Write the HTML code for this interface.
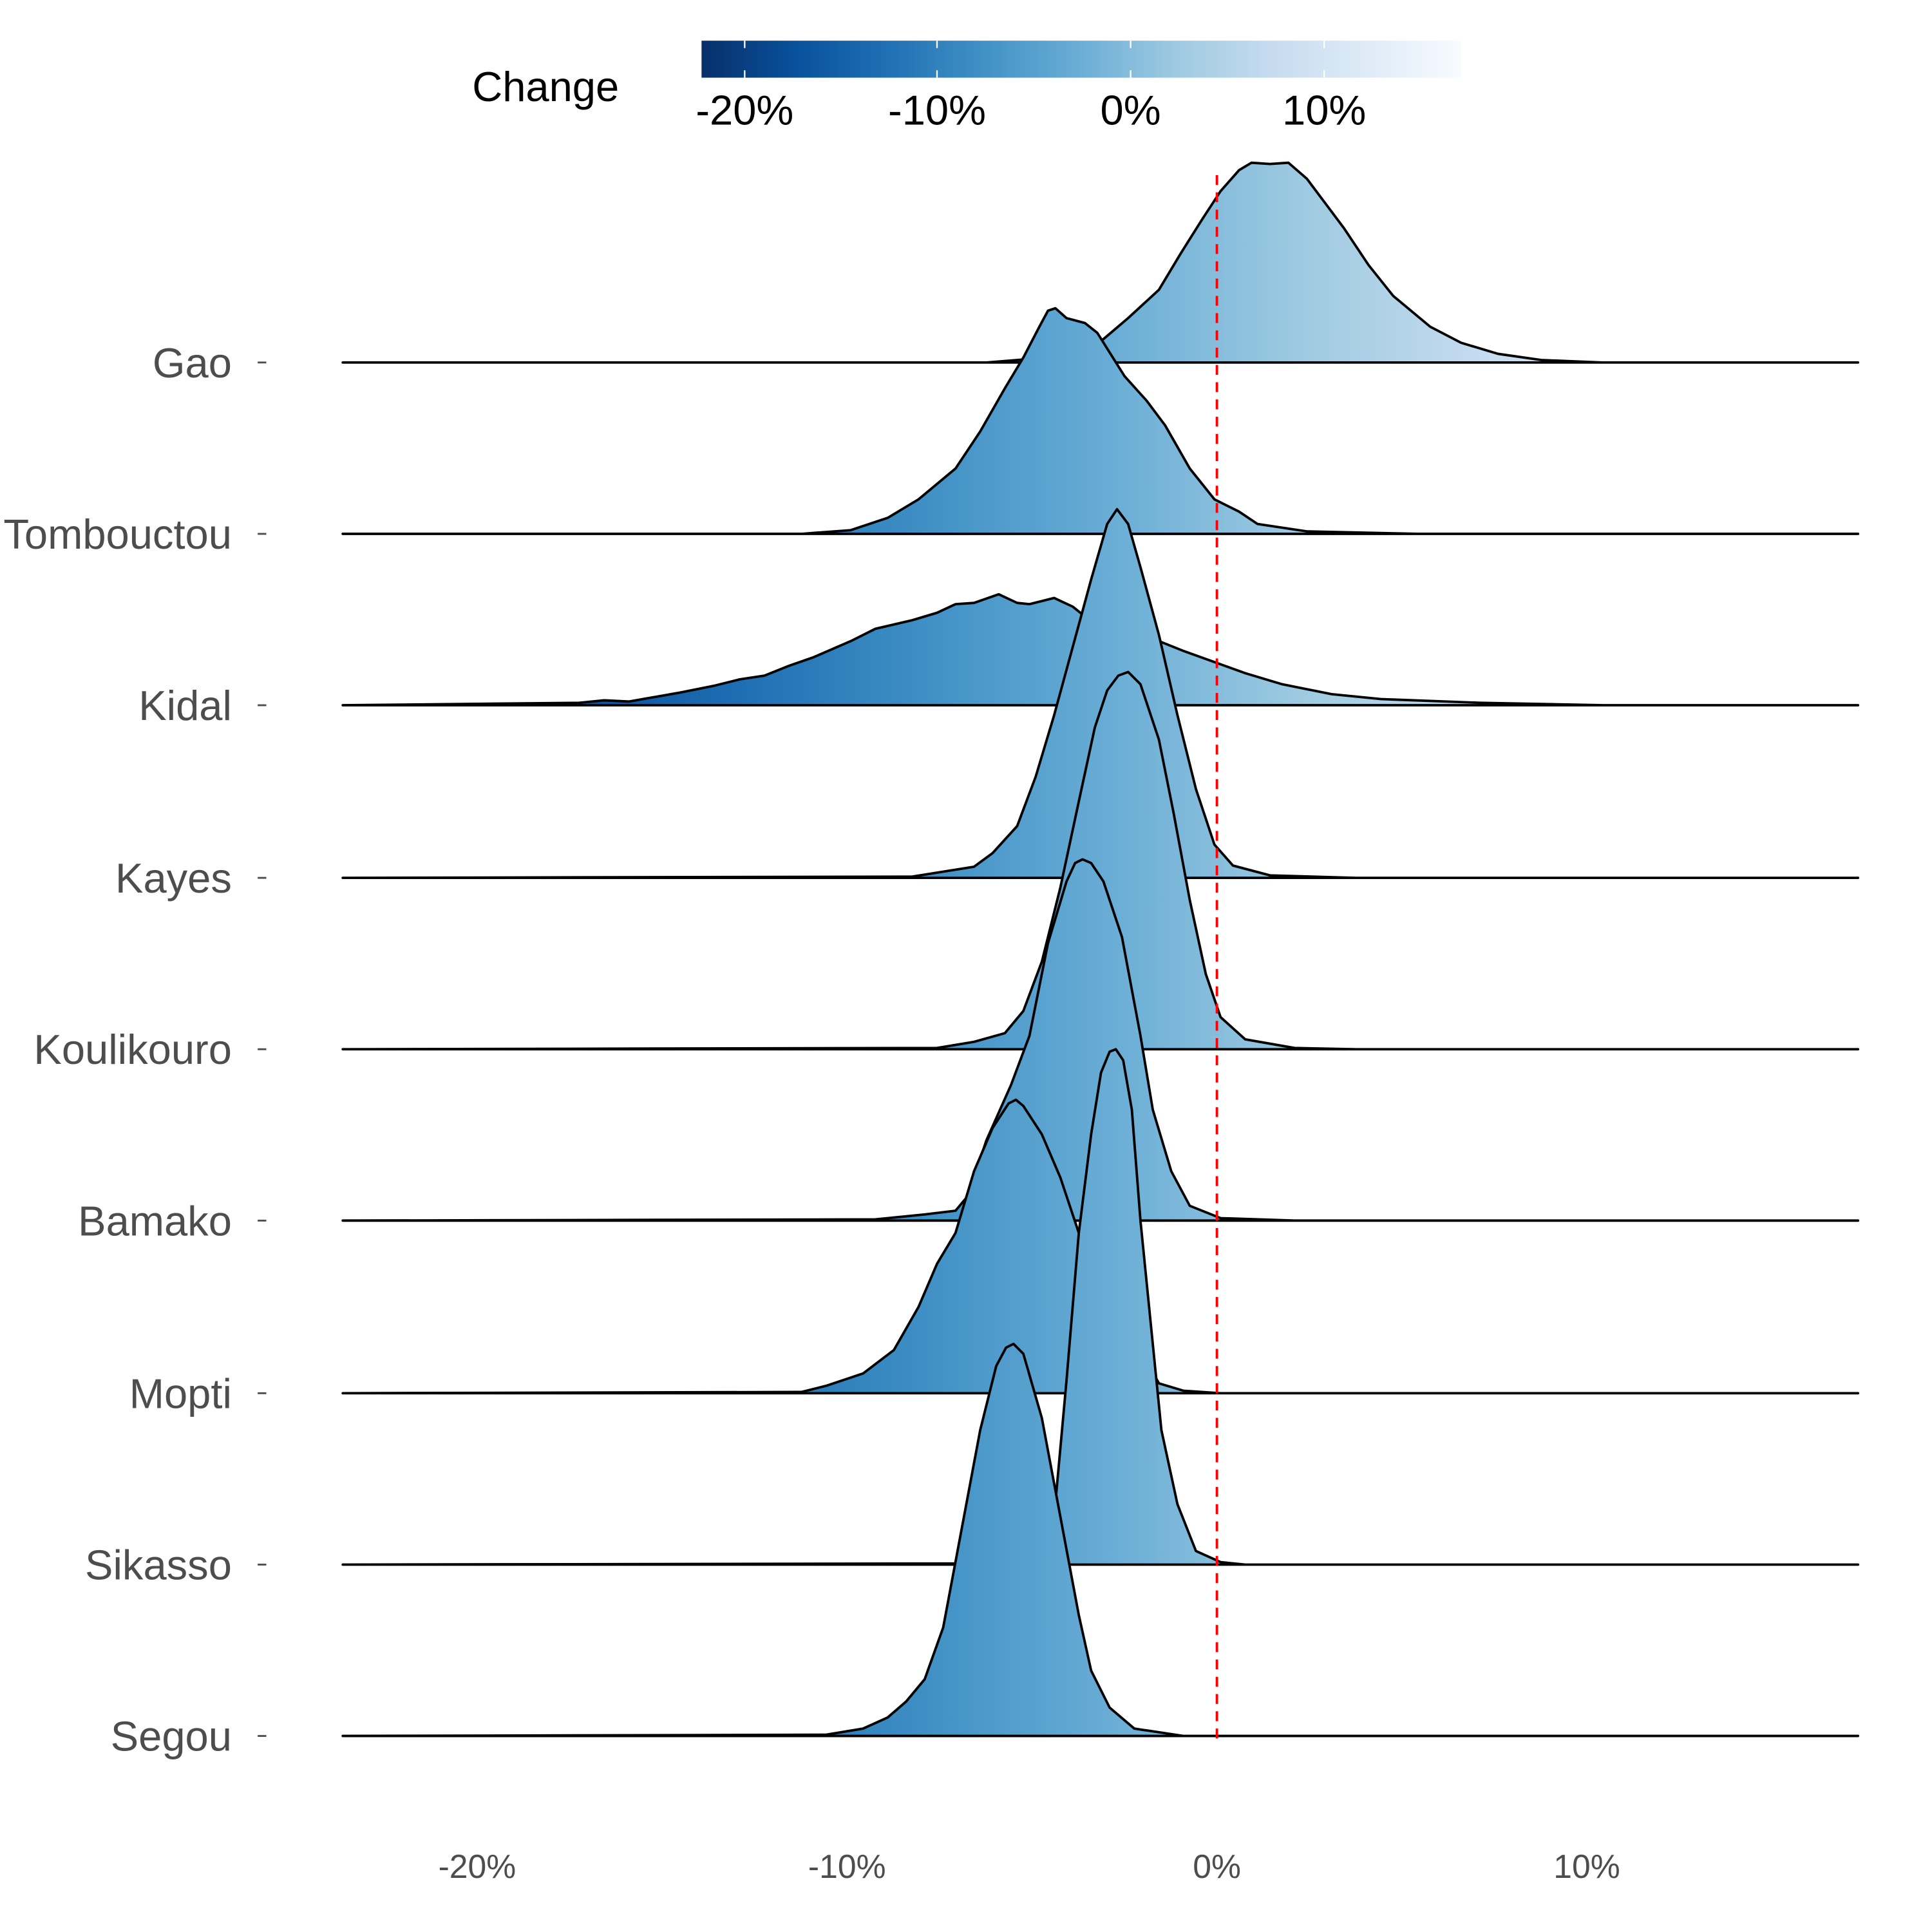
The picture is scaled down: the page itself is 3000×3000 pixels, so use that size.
<!DOCTYPE html>
<html><head><meta charset="utf-8"><style>
html,body{margin:0;padding:0;background:#fff;}
svg{display:block;}
text{font-family:"Liberation Sans",Arial,sans-serif;}
</style></head><body>
<svg width="3000" height="3000" viewBox="0 0 1567 1567" xmlns="http://www.w3.org/2000/svg">
<defs>
<linearGradient id="g" gradientUnits="userSpaceOnUse" x1="318" y1="0" x2="1497" y2="0">
<stop offset="0" stop-color="#08306b"/>
<stop offset="0.125" stop-color="#08519c"/>
<stop offset="0.25" stop-color="#2171b5"/>
<stop offset="0.375" stop-color="#4292c6"/>
<stop offset="0.5" stop-color="#6baed6"/>
<stop offset="0.625" stop-color="#9ecae1"/>
<stop offset="0.75" stop-color="#c6dbef"/>
<stop offset="0.875" stop-color="#deebf7"/>
<stop offset="1" stop-color="#f7fbff"/>
</linearGradient>
<linearGradient id="cb" x1="0" y1="0" x2="1" y2="0">
<stop offset="0" stop-color="#08306b"/>
<stop offset="0.125" stop-color="#08519c"/>
<stop offset="0.25" stop-color="#2171b5"/>
<stop offset="0.375" stop-color="#4292c6"/>
<stop offset="0.5" stop-color="#6baed6"/>
<stop offset="0.625" stop-color="#9ecae1"/>
<stop offset="0.75" stop-color="#c6dbef"/>
<stop offset="0.875" stop-color="#deebf7"/>
<stop offset="1" stop-color="#f7fbff"/>
</linearGradient>
</defs>
<text x="383" y="82" font-size="34" fill="#000">Change</text>
<rect x="569" y="33" width="616" height="30" fill="url(#cb)"/>
<g stroke="#fff" stroke-width="1.2">
<line x1="604" y1="33" x2="604" y2="39"/><line x1="604" y1="57" x2="604" y2="63"/>
<line x1="760" y1="33" x2="760" y2="39"/><line x1="760" y1="57" x2="760" y2="63"/>
<line x1="917" y1="33" x2="917" y2="39"/><line x1="917" y1="57" x2="917" y2="63"/>
<line x1="1074" y1="33" x2="1074" y2="39"/><line x1="1074" y1="57" x2="1074" y2="63"/>
</g>
<g font-size="34" fill="#000" text-anchor="middle">
<text x="604" y="101">-20%</text><text x="760" y="101">-10%</text><text x="917" y="101">0%</text><text x="1074" y="101">10%</text>
</g>
<g font-size="34" fill="#4d4d4d" text-anchor="end">
<text x="188" y="306">Gao</text><text x="188" y="445">Tombouctou</text><text x="188" y="584">Kidal</text>
<text x="188" y="724">Kayes</text><text x="188" y="863">Koulikouro</text><text x="188" y="1002">Bamako</text>
<text x="188" y="1142">Mopti</text><text x="188" y="1281">Sikasso</text><text x="188" y="1420">Segou</text>
</g>
<g stroke="#4d4d4d" stroke-width="1.5">
<line x1="209" y1="294" x2="216" y2="294"/><line x1="209" y1="433" x2="216" y2="433"/><line x1="209" y1="572" x2="216" y2="572"/>
<line x1="209" y1="712" x2="216" y2="712"/><line x1="209" y1="851" x2="216" y2="851"/><line x1="209" y1="990" x2="216" y2="990"/>
<line x1="209" y1="1130" x2="216" y2="1130"/><line x1="209" y1="1269" x2="216" y2="1269"/><line x1="209" y1="1408" x2="216" y2="1408"/>
</g>
<g font-size="27" fill="#4d4d4d" text-anchor="middle">
<text x="387" y="1523">-20%</text><text x="687" y="1523">-10%</text><text x="987" y="1523">0%</text><text x="1287" y="1523">10%</text>
</g>
<g fill="url(#g)" stroke="#000" stroke-width="2" stroke-linejoin="round">
<path d="M278,294 L800,294 850,290 880,282 895,275 915,258 940,235 958,205 975,178 990,155 1005,138 1015,132 1030,133 1045,132 1060,145 1075,165 1090,185 1110,215 1130,240 1160,265 1185,278 1215,287 1250,292 1300,294 1507,294 Z"/>
<path d="M278,433 L650,433 690,430 720,420 745,405 775,380 795,350 815,315 830,290 843,265 850,252 856,250 865,258 880,262 890,270 912,305 930,325 945,345 965,380 985,405 1005,415 1020,425 1060,431 1150,433 1507,433 Z"/>
<path d="M278,572 L470,570 490,568 510,569 550,562 580,556 600,551 620,548 640,540 660,533 690,520 710,510 740,503 760,497 775,490 790,489 810,482 825,489 835,490 855,485 870,492 880,500 910,510 940,520 960,528 985,537 1010,546 1040,555 1080,563 1120,567 1200,570 1300,572 1507,572 Z"/>
<path d="M278,712 L740,711 765,707 790,703 805,692 825,670 840,630 855,580 870,525 885,470 898,425 906,413 915,425 925,460 940,515 955,580 970,640 985,685 1000,702 1030,710 1100,712 1507,712 Z"/>
<path d="M278,851 L760,850 790,845 815,838 830,820 845,780 860,720 875,650 888,590 898,560 907,548 915,545 925,555 940,600 952,660 965,730 978,790 990,825 1010,843 1050,850 1100,851 1507,851 Z"/>
<path d="M278,990 L710,989 750,985 775,982 785,970 800,925 820,880 835,840 850,765 865,715 872,700 878,697 885,700 895,715 910,760 925,840 935,900 950,950 965,978 990,988 1050,990 1507,990 Z"/>
<path d="M278,1130 L650,1129 670,1124 700,1114 725,1095 745,1060 760,1025 775,1000 790,950 805,915 818,895 824,892 830,897 845,920 860,955 875,1000 905,1060 940,1122 960,1128 990,1130 1507,1130 Z"/>
<path d="M278,1269 L850,1268 855,1230 865,1120 875,1000 885,920 893,870 900,853 905,851 911,860 918,900 925,990 932,1060 942,1160 955,1220 970,1258 990,1267 1010,1269 1507,1269 Z"/>
<path d="M278,1408 L670,1407 700,1402 720,1393 735,1380 750,1362 765,1320 780,1240 795,1160 808,1108 816,1093 822,1090 830,1098 845,1150 860,1230 875,1310 885,1355 900,1385 920,1402 960,1408 1507,1408 Z"/>
</g>
<line x1="987" y1="142" x2="987" y2="1410" stroke="#ff0000" stroke-width="2" stroke-dasharray="8,6"/>
</svg>
</body></html>
